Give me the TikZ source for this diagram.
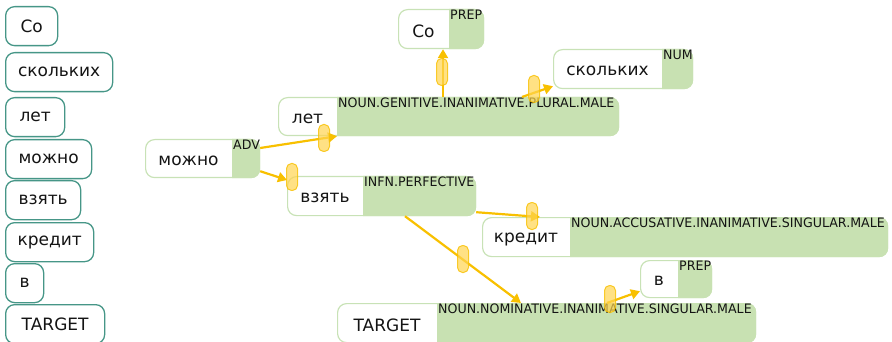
\documentclass[tikz,border=0pt]{standalone}
\usepackage{fontspec}
\setmainfont{DejaVu Sans}
\newfontfamily\tagfont[FakeStretch=0.97]{DejaVu Sans}
\usetikzlibrary{calc,arrows.meta}

\definecolor{tagfill}{RGB}{200,225,178}
\definecolor{gline}{RGB}{200,226,182}
\definecolor{tealline}{RGB}{70,150,135}
\definecolor{linkcolor}{RGB}{248,192,0}
\definecolor{gripfill}{RGB}{255,212,80}
\definecolor{inkcolor}{RGB}{20,20,20}

\tikzset{
  wordbox/.style={draw=tealline, line width=1.3pt, rounded corners=9pt, fill=white,
    anchor=north west, minimum height=39pt, inner sep=0pt, text=inkcolor,
    font=\fontsize{17}{20}\selectfont},
  gbox/.style={draw=gline, line width=1.2pt, rounded corners=9pt,
    anchor=north west, inner sep=0pt},
  wordtext/.style={text=inkcolor, inner sep=0pt, yshift=-2pt, font=\fontsize{17}{20}\selectfont},
  tagtext/.style={anchor=north west, text=inkcolor, inner xsep=1pt, inner ysep=0.5pt,
    font=\tagfont\fontsize{13}{15}\selectfont},
  link/.style={draw=linkcolor, line width=2.2pt, -{Triangle[length=9pt,width=10pt]}},
  grip/.style={draw=linkcolor, fill=gripfill, fill opacity=0.7, draw opacity=0.8,
    line width=1pt, rounded corners=5pt, minimum width=11pt, minimum height=27pt,
    inner sep=0pt}
}

\begin{document}
\begin{tikzpicture}[x=1pt,y=-1pt]
\useasboundingbox (0,0) rectangle (892,342);

% word list
\node[wordbox, minimum width=52pt] (lCo) at (5,6) {Со};
\node[wordbox, minimum width=107pt] (lSkolkih) at (5,52) {скольких};
\node[wordbox, minimum width=59pt] (lLet) at (5,97) {лет};
\node[wordbox, minimum width=86pt] (lMozhno) at (5,139) {можно};
\node[wordbox, minimum width=75pt] (lVzyat) at (5,180) {взять};
\node[wordbox, minimum width=88pt] (lKredit) at (5,222) {кредит};
\node[wordbox, minimum width=38pt] (lV) at (5,263) {в};
\node[wordbox, minimum width=99pt] (lTarget) at (5,304) {TARGET};

% Co
\node[gbox, minimum width=85pt, minimum height=39pt] (co) at (398,9) {};
\coordinate (coS) at (449,9);
\begin{scope}
\clip (coS) rectangle ($(co.south east)+(2,2)$);
\fill[tagfill, rounded corners=9pt] (co.north west) rectangle (co.south east);
\end{scope}
\node[wordtext] (coW) at ($(co.west)!0.5!(coS |- co.west)$) {Со};
\node[tagtext] (coT) at (coS) {PREP};

% skolkih
\node[gbox, minimum width=139pt, minimum height=39pt] (skolkih) at (553,49) {};
\coordinate (skolkihS) at (662,49);
\begin{scope}
\clip (skolkihS) rectangle ($(skolkih.south east)+(2,2)$);
\fill[tagfill, rounded corners=9pt] (skolkih.north west) rectangle (skolkih.south east);
\end{scope}
\node[wordtext] (skolkihW) at ($(skolkih.west)!0.5!(skolkihS |- skolkih.west)$) {скольких};
\node[tagtext] (skolkihT) at (skolkihS) {NUM};

% let
\node[gbox, minimum width=340pt, minimum height=38pt] (let) at (278,97) {};
\coordinate (letS) at (337,97);
\begin{scope}
\clip (letS) rectangle ($(let.south east)+(2,2)$);
\fill[tagfill, rounded corners=9pt] (let.north west) rectangle (let.south east);
\end{scope}
\node[wordtext] (letW) at ($(let.west)!0.5!(letS |- let.west)$) {лет};
\node[tagtext] (letT) at (letS) {NOUN.GENITIVE.INANIMATIVE.PLURAL.MALE};

% mozhno
\node[gbox, minimum width=114pt, minimum height=38pt] (mozhno) at (145,139) {};
\coordinate (mozhnoS) at (232,139);
\begin{scope}
\clip (mozhnoS) rectangle ($(mozhno.south east)+(2,2)$);
\fill[tagfill, rounded corners=9pt] (mozhno.north west) rectangle (mozhno.south east);
\end{scope}
\node[wordtext] (mozhnoW) at ($(mozhno.west)!0.5!(mozhnoS |- mozhno.west)$) {можно};
\node[tagtext] (mozhnoT) at (mozhnoS) {ADV};

% vzyat
\node[gbox, minimum width=188pt, minimum height=39pt] (vzyat) at (287,176) {};
\coordinate (vzyatS) at (363,176);
\begin{scope}
\clip (vzyatS) rectangle ($(vzyat.south east)+(2,2)$);
\fill[tagfill, rounded corners=9pt] (vzyat.north west) rectangle (vzyat.south east);
\end{scope}
\node[wordtext] (vzyatW) at ($(vzyat.west)!0.5!(vzyatS |- vzyat.west)$) {взять};
\node[tagtext] (vzyatT) at (vzyatS) {INFN.PERFECTIVE};

% kredit
\node[gbox, minimum width=405pt, minimum height=39pt] (kredit) at (482,217) {};
\coordinate (kreditS) at (570,217);
\begin{scope}
\clip (kreditS) rectangle ($(kredit.south east)+(2,2)$);
\fill[tagfill, rounded corners=9pt] (kredit.north west) rectangle (kredit.south east);
\end{scope}
\node[wordtext] (kreditW) at ($(kredit.west)!0.5!(kreditS |- kredit.west)$) {кредит};
\node[tagtext] (kreditT) at (kreditS) {NOUN.ACCUSATIVE.INANIMATIVE.SINGULAR.MALE};

% v
\node[gbox, minimum width=71pt, minimum height=37pt] (v) at (640,260) {};
\coordinate (vS) at (678,260);
\begin{scope}
\clip (vS) rectangle ($(v.south east)+(2,2)$);
\fill[tagfill, rounded corners=9pt] (v.north west) rectangle (v.south east);
\end{scope}
\node[wordtext] (vW) at ($(v.west)!0.5!(vS |- v.west)$) {в};
\node[tagtext] (vT) at (vS) {PREP};

% target
\node[gbox, minimum width=418pt, minimum height=39pt] (target) at (337,303) {};
\coordinate (targetS) at (437,303);
\begin{scope}
\clip (targetS) rectangle ($(target.south east)+(2,2)$);
\fill[tagfill, rounded corners=9pt] (target.north west) rectangle (target.south east);
\end{scope}
\node[wordtext] (targetW) at ($(target.west)!0.5!(targetS |- target.west)$) {TARGET};
\node[tagtext] (targetT) at (targetS) {NOUN.NOMINATIVE.INANIMATIVE.SINGULAR.MALE};

% links
\draw[link] ($(mozhno.north east)+(0,9)$) -- (letS |- let.south);
\draw[link] ($(mozhno.south east)+(0,-7)$) -- ($(vzyat.north west)+(0,4)$);
\draw[link] ($(let.north west)+(165,0)$) -- ($(co.south west)+(45,0)$);
\draw[link] ($(let.north west)+(244,0)$) -- ($(skolkih.south west)+(0,-3)$);
\draw[link] ($(vzyat.south east)+(0,-4)$) -- ($(kredit.north west)+(58,0)$);
\draw[link] ($(vzyat.south west)+(118,0)$) -- ($(target.north west)+(184,0)$);
\draw[link] ($(target.north west)+(270,0)$) -- ($(v.south west)+(0,-7)$);

% grips
\node[grip] (g1) at (324,138) {};
\node[grip] (g2) at (292,177) {};
\node[grip] (g3) at (442,72) {};
\node[grip] (g4) at (534,89) {};
\node[grip] (g5) at (532,216) {};
\node[grip] (g6) at (463,259) {};
\node[grip] (g7) at (610,299) {};
\end{tikzpicture}
\end{document}
